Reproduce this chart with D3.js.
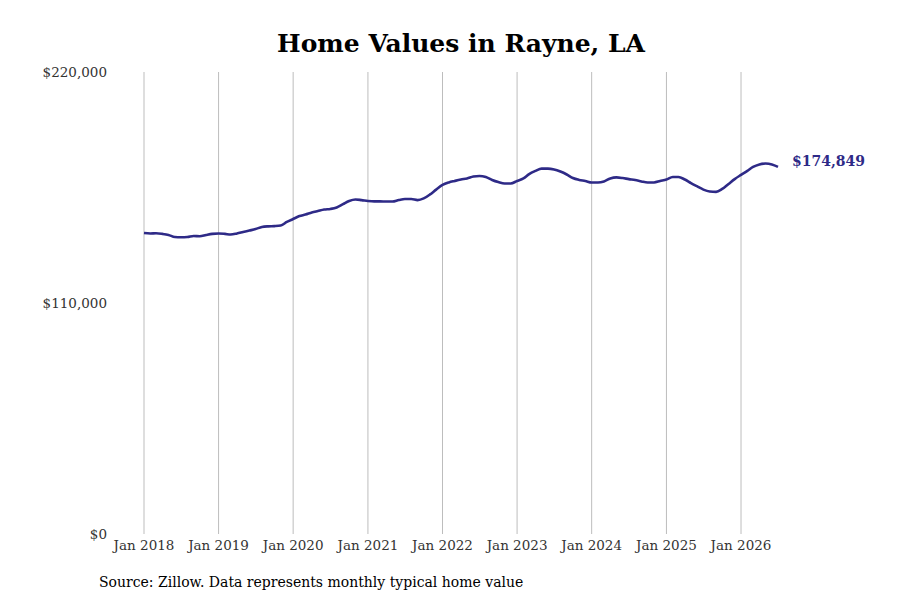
<!DOCTYPE html>
<html lang="en">
<head>
  <meta charset="UTF-8">
  <title>Home Values in Rayne, LA</title>
  <script src="https://d3js.org/d3.v7.min.js"></script>
  <style>
    body { margin: 0; background: #fff; }
    svg text { font-family: "DejaVu Serif", serif; }
  </style>
</head>
<body>
  <svg width="900" height="600"></svg>

  <script>
    // Monthly typical home value, Jan 2018 - Jul 2026
    var startMonth = "2018-01";
    var homeValues = [
      143300, 143100, 143200, 142900, 142400, 141400, 141300, 141400, 141900, 141800, 142400, 142900,
      143100, 142900, 142600, 143100, 143800, 144500, 145200, 146200, 146500, 146600, 146900, 148600,
      150000, 151400, 152100, 153100, 153800, 154500, 154800, 155500, 157100, 158600, 159300, 159000,
      158600, 158400, 158400, 158300, 158300, 159000, 159500, 159500, 159000, 159800, 161700, 164000,
      166200, 167400, 168100, 168800, 169300, 170200, 170500, 170000, 168600, 167600, 166900, 166900,
      168100, 169300, 171400, 172900, 174000, 174000, 173600, 172600, 171200, 169500, 168600, 168100,
      167400, 167400, 167900, 169300, 169800, 169500, 169000, 168600, 167900, 167400, 167400, 168100,
      168800, 170000, 170000, 168800, 167100, 165500, 164000, 163100, 162900, 164300, 166700, 169000,
      171000, 172900, 174800, 176000, 176400, 176000, 174849
    ];
    var yTicks = [0, 110000, 220000];
    var xTickYears = [2018, 2019, 2020, 2021, 2022, 2023, 2024, 2025, 2026];

    var svg = d3.select("svg");
    var margin = { top: 72, right: 122, bottom: 66, left: 115 };

    var parse = d3.timeParse("%Y-%m");
    var t0 = parse(startMonth);
    var data = homeValues.map((v, i) => ({ date: d3.timeMonth.offset(t0, i), value: v }));

    var x = d3.scaleTime()
        .domain([t0, new Date(2026, 6, 1)])
        .range([144, 778]);
    var y = d3.scaleLinear()
        .domain([0, 220000])
        .range([534, 72]);

    // Vertical gridlines at each January
    var tickDates = xTickYears.map(yr => new Date(yr, 0, 1));
    svg.append("g")
        .selectAll("line")
        .data(tickDates)
        .enter().append("line")
        .attr("x1", d => x(d)).attr("x2", d => x(d))
        .attr("y1", 72).attr("y2", 534)
        .attr("stroke", "#bdbdbd")
        .attr("stroke-width", 1);

    // X axis labels
    svg.append("g")
        .selectAll("text")
        .data(tickDates)
        .enter().append("text")
        .attr("x", d => x(d))
        .attr("y", 550)
        .attr("text-anchor", "middle")
        .attr("font-size", "13.5px")
        .attr("fill", "#333")
        .text(d => d3.timeFormat("Jan %Y")(d));

    // Y axis labels
    svg.append("g")
        .selectAll("text")
        .data(yTicks)
        .enter().append("text")
        .attr("x", 107)
        .attr("y", d => y(d))
        .attr("dy", "0.35em")
        .attr("text-anchor", "end")
        .attr("font-size", "13.5px")
        .attr("fill", "#333")
        .text(d => "$" + d3.format(",")(d));

    // Line
    var line = d3.line()
        .x(d => x(d.date))
        .y(d => y(d.value))
        .curve(d3.curveMonotoneX);

    svg.append("path")
        .datum(data)
        .attr("fill", "none")
        .attr("stroke", "#2e2a87")
        .attr("stroke-width", 2.6)
        .attr("stroke-linejoin", "round")
        .attr("d", line);

    // End label
    var last = data[data.length - 1];
    svg.append("text")
        .attr("x", x(last.date) + 14)
        .attr("y", y(last.value) - 6)
        .attr("dy", "0.35em")
        .attr("font-size", "14px")
        .attr("font-weight", "bold")
        .attr("fill", "#2e2a87")
        .text("$" + d3.format(",")(last.value));

    // Title
    svg.append("text")
        .attr("x", 461)
        .attr("y", 52)
        .attr("text-anchor", "middle")
        .attr("font-size", "25px")
        .attr("font-weight", "bold")
        .attr("fill", "#000")
        .text("Home Values in Rayne, LA");

    // Source note
    svg.append("text")
        .attr("x", 99)
        .attr("y", 587)
        .attr("font-size", "14px")
        .attr("fill", "#000")
        .text("Source: Zillow. Data represents monthly typical home value");
  </script>
</body>
</html>
